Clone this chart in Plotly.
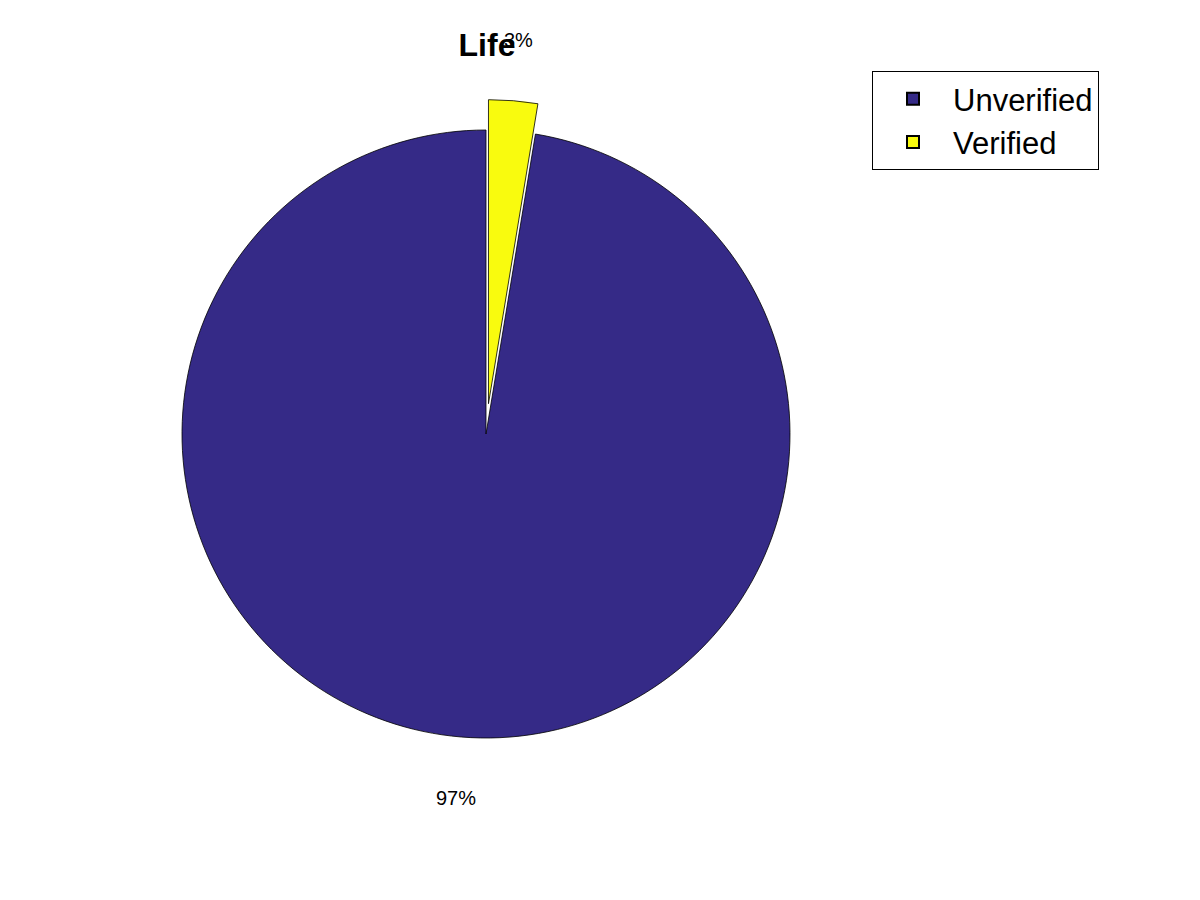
import math
import plotly.graph_objects as go

labels = ["Unverified", "Verified"]
values = [97.4, 2.6]
colors = ["#352A87", "#F9FB0E"]
pulls = [0, 0.1]
title = "Life"

W, H = 1200, 900
cx_px, cy_px, r_px = 486, 434, 304
max_pull = max(pulls)
half = r_px * (1 + max_pull)
dom_x = [(cx_px - half) / W, (cx_px + half) / W]
dom_y = [1 - (cy_px + half) / H, 1 - (cy_px - half) / H]

total = sum(values)
# MATLAB draws counterclockwise from 12 o'clock; emulate with a clockwise
# plotly pie rotated so the last slice ends at 12 o'clock.
rot = 360 * values[-1] / total

fig = go.Figure(go.Pie(
    labels=labels, values=values, sort=False, direction="clockwise",
    rotation=rot, pull=pulls, textinfo="none", hoverinfo="label+percent",
    marker=dict(colors=colors, line=dict(color="black", width=0.8)),
    domain=dict(x=dom_x, y=dom_y),
))

start = 90.0
annotations = []
for v, p in zip(values, pulls):
    frac = v / total
    mid = start + 180 * frac
    start += 360 * frac
    d = r_px * (1.2 + p)
    x_px = cx_px + d * math.cos(math.radians(mid))
    y_px = cy_px - d * math.sin(math.radians(mid))
    annotations.append(dict(
        x=x_px / W, y=1 - y_px / H, xref="paper", yref="paper",
        xanchor="center", yanchor="middle",
        text=f"{round(100 * frac)}%", showarrow=False,
        font=dict(size=20, color="black", family="Liberation Sans, Arial"),
    ))

fig.update_layout(
    width=W, height=H, margin=dict(l=0, r=0, t=0, b=0),
    paper_bgcolor="white", plot_bgcolor="white",
    title=dict(text=f"<b>{title}</b>", x=487 / W, y=1 - 45 / H,
               xanchor="center", yanchor="middle",
               font=dict(size=32, color="black", family="Liberation Sans, Arial")),
    legend=dict(x=872 / W, y=1 - 71 / H, xanchor="left", yanchor="top",
                bordercolor="black", borderwidth=1, bgcolor="white",
                font=dict(size=31, color="black", family="Liberation Sans, Arial"),
                traceorder="normal", tracegroupgap=0, itemsizing="constant",
                itemwidth=70),
    annotations=annotations,
    showlegend=True,
)

fig.write_html("out.html")
